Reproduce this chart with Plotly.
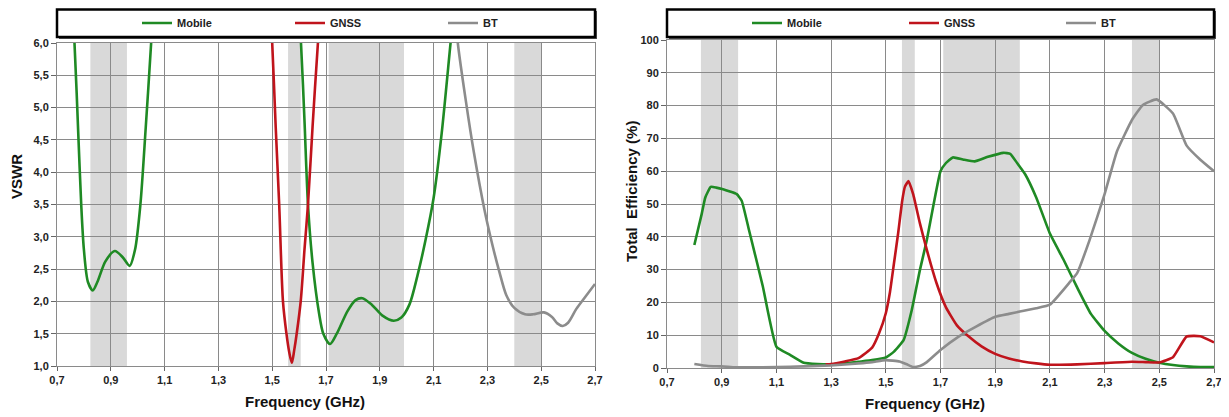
import plotly.graph_objects as go

# ---------------- data ----------------
series_names = ["Mobile", "GNSS", "BT"]
colors = {"Mobile": "#1f8a24", "GNSS": "#c0141c", "BT": "#8c8c8c"}

# VSWR (left chart)
vswr_mobile_f1 = [0.755, 0.765, 0.78, 0.79, 0.80, 0.815, 0.833, 0.85, 0.88, 0.915, 0.945, 0.97, 0.99, 1.01, 1.03, 1.05, 1.056]
vswr_mobile_v1 = [6.6, 6.0, 4.5, 3.5, 2.8, 2.3, 2.17, 2.3, 2.62, 2.78, 2.68, 2.55, 2.8, 3.5, 4.7, 6.0, 6.5]
vswr_mobile_f2 = [1.598, 1.607, 1.62, 1.633, 1.65, 1.674, 1.69, 1.715, 1.74, 1.78, 1.81, 1.835, 1.87, 1.91, 1.952, 1.98, 2.01, 2.04, 2.07, 2.10, 2.13, 2.163, 2.175]
vswr_mobile_v2 = [6.5, 6.0, 4.8, 3.5, 2.6, 1.82, 1.5, 1.34, 1.5, 1.85, 2.02, 2.05, 1.95, 1.78, 1.70, 1.75, 1.95, 2.4, 2.95, 3.6, 4.6, 6.0, 6.5]
vswr_gnss_f = [1.495, 1.50, 1.513, 1.526, 1.54, 1.553, 1.563, 1.573, 1.582, 1.591, 1.606, 1.62, 1.633, 1.65, 1.67, 1.676]
vswr_gnss_v = [6.3, 6.0, 4.7, 3.5, 2.0, 1.5, 1.22, 1.05, 1.25, 1.5, 2.0, 2.8, 3.5, 4.7, 6.0, 6.3]
vswr_bt_f = [2.18, 2.19, 2.22, 2.25, 2.29, 2.32, 2.345, 2.37, 2.40, 2.44, 2.47, 2.51, 2.54, 2.56, 2.58, 2.60, 2.63, 2.66, 2.70]
vswr_bt_v = [6.5, 6.0, 5.1, 4.3, 3.4, 2.85, 2.45, 2.1, 1.9, 1.8, 1.8, 1.83, 1.76, 1.66, 1.62, 1.67, 1.88, 2.05, 2.27]

# Total efficiency (right chart)
eff_mobile_f = [0.80, 0.827, 0.84, 0.86, 0.88, 0.905, 0.93, 0.955, 0.973, 1.0, 1.05, 1.10, 1.15, 1.20, 1.25, 1.30, 1.35, 1.40, 1.45, 1.50, 1.53, 1.565, 1.595, 1.625, 1.65, 1.675, 1.70, 1.72, 1.745, 1.785, 1.825, 1.87, 1.93, 1.955, 1.98, 2.01, 2.05, 2.10, 2.15, 2.20, 2.25, 2.30, 2.35, 2.40, 2.45, 2.50, 2.55, 2.60, 2.65, 2.70]
eff_mobile_v = [37.5, 47, 52, 55.2, 55.0, 54.5, 53.8, 53.0, 51, 42, 25, 6.5, 4.0, 1.6, 1.2, 1.1, 1.4, 1.9, 2.4, 3.2, 5, 8.5, 17.7, 30, 39, 50, 60, 62.5, 64.2, 63.5, 63, 64.3, 65.6, 65.3, 62.5, 59, 52, 41, 33, 24.5, 16.5, 11.3, 7.5, 4.6, 2.8, 1.6, 0.9, 0.5, 0.3, 0.3]
eff_gnss_f = [1.28, 1.30, 1.35, 1.40, 1.45, 1.475, 1.50, 1.515, 1.53, 1.545, 1.56, 1.57, 1.583, 1.60, 1.625, 1.65, 1.685, 1.72, 1.76, 1.80, 1.85, 1.90, 1.95, 2.00, 2.05, 2.10, 2.20, 2.30, 2.40, 2.45, 2.50, 2.55, 2.60, 2.65, 2.70]
eff_gnss_v = [1.1, 1.2, 2.0, 3.0, 6.2, 10.5, 16.7, 23, 32, 41, 51, 55.3, 57, 53, 44, 36, 26, 18.5, 13, 9.8, 6.6, 4.3, 2.9, 2.0, 1.4, 1.0, 1.1, 1.5, 1.9, 1.8, 1.7, 3.3, 9.6, 9.7, 7.8]
eff_bt_f = [0.80, 0.85, 0.90, 0.95, 1.00, 1.10, 1.20, 1.30, 1.40, 1.45, 1.50, 1.55, 1.575, 1.60, 1.625, 1.65, 1.70, 1.765, 1.83, 1.90, 1.95, 1.99, 2.05, 2.10, 2.17, 2.20, 2.245, 2.30, 2.345, 2.40, 2.44, 2.49, 2.55, 2.60, 2.65, 2.70]
eff_bt_v = [1.2, 0.6, 0.5, 0.2, 0.2, 0.3, 0.5, 0.8, 1.4, 1.8, 2.4, 2.0, 1.2, 0.3, 0.6, 1.8, 5.5, 9.5, 12.6, 15.6, 16.5, 17.2, 18.2, 19.3, 25.9, 29, 39, 53, 66, 75.6, 80.2, 81.9, 77.6, 67.8, 63.5, 60]

# shaded frequency bands (GHz)
band_starts = [0.824, 1.559, 1.71, 2.40]
band_ends = [0.960, 1.606, 1.99, 2.50]

x_ticks = [0.7, 0.9, 1.1, 1.3, 1.5, 1.7, 1.9, 2.1, 2.3, 2.5, 2.7]

# ---------------- figure ----------------
W, H = 1229, 417
OFF = 8  # page body margin offset
FONT = "Liberation Sans, Arial, sans-serif"

def px(x):
    return (x - OFF) / W

def py(y):
    return 1 - (y - OFF) / H

fig = go.Figure()

left = [
    ("Mobile", vswr_mobile_f1, vswr_mobile_v1, True),
    ("Mobile", vswr_mobile_f2, vswr_mobile_v2, False),
    ("GNSS", vswr_gnss_f, vswr_gnss_v, True),
    ("BT", vswr_bt_f, vswr_bt_v, True),
]
for name, f, v, show in left:
    fig.add_trace(go.Scatter(
        x=f, y=v, mode="lines", name=name, legendgroup="L" + name, showlegend=show,
        line=dict(color=colors[name], width=2.6, shape="spline", smoothing=0.8),
        xaxis="x", yaxis="y", legend="legend",
    ))

right = [
    ("Mobile", eff_mobile_f, eff_mobile_v),
    ("GNSS", eff_gnss_f, eff_gnss_v),
    ("BT", eff_bt_f, eff_bt_v),
]
for name, f, v in right:
    fig.add_trace(go.Scatter(
        x=f, y=v, mode="lines", name=name, legendgroup="R" + name,
        line=dict(color=colors[name], width=2.6, shape="spline", smoothing=0.4),
        xaxis="x2", yaxis="y2", legend="legend2",
    ))

shapes = []
for xr, yr in (("x", "y domain"), ("x2", "y2 domain")):
    for s, e in zip(band_starts, band_ends):
        shapes.append(dict(type="rect", xref=xr, yref=yr, x0=s, x1=e, y0=0, y1=1,
                           fillcolor="#d9d9d9", line=dict(width=0), layer="below"))

# legend boxes
for x0, x1 in ((57, 595), (667, 1214)):
    shapes.append(dict(type="rect", xref="paper", yref="paper",
                       x0=px(x0 + 2), x1=px(x1 + 2), y0=py(39), y1=py(11),
                       fillcolor="#555555", line=dict(width=0), layer="below"))
    shapes.append(dict(type="rect", xref="paper", yref="paper",
                       x0=px(x0), x1=px(x1), y0=py(37), y1=py(9.5),
                       fillcolor="white", line=dict(color="black", width=2.5), layer="below"))

tickfont = dict(family=FONT, size=11, color="#222222", weight="bold")
grid = "#8a8a8a"
common_x = dict(range=[0.7, 2.7], tickvals=x_ticks, tickformat=".1f", showgrid=True,
                gridcolor=grid, gridwidth=1, showline=True, linecolor="#8a8a8a", linewidth=1,
                mirror=True, ticks="outside", ticklen=4, tickcolor="#666666",
                tickfont=tickfont, zeroline=False, fixedrange=True, automargin=False)
common_y = dict(showgrid=True, gridcolor=grid, gridwidth=1, showline=True,
                linecolor="#8a8a8a", linewidth=1, mirror=True, ticks="outside",
                ticklen=5, tickcolor="#666666", tickfont=tickfont, zeroline=False,
                fixedrange=True, automargin=False)

legend_font = dict(family=FONT, size=11, color="#222222", weight="bold")

fig.update_layout(
    template="none",
    width=W, height=H,
    margin=dict(l=0, r=0, t=0, b=0, pad=0, autoexpand=False),
    paper_bgcolor="white", plot_bgcolor="white",
    separators=", ",
    font=dict(family=FONT, size=11, color="#222222"),
    xaxis=dict(domain=[px(57), px(595)], anchor="y", **common_x),
    yaxis=dict(domain=[py(366), py(43)], anchor="x", range=[1, 6], dtick=0.5,
               tickformat=".1f", **common_y),
    xaxis2=dict(domain=[px(667), px(1214)], anchor="y2", **common_x),
    yaxis2=dict(domain=[py(368), py(40)], anchor="x2", range=[0, 100], dtick=10,
                tickformat="d", **common_y),
    legend=dict(orientation="h", x=px(137), xanchor="left", y=py(23), yanchor="middle",
                bgcolor="rgba(0,0,0,0)", borderwidth=0, entrywidth=108,
                entrywidthmode="pixels", itemwidth=30, font=legend_font,
                traceorder="normal", itemclick=False, itemdoubleclick=False),
    legend2=dict(orientation="h", x=px(747), xanchor="left", y=py(23), yanchor="middle",
                 bgcolor="rgba(0,0,0,0)", borderwidth=0, entrywidth=112,
                 entrywidthmode="pixels", itemwidth=30, font=legend_font,
                 traceorder="normal", itemclick=False, itemdoubleclick=False),
    shapes=shapes,
    showlegend=True,
)

title_font = dict(family=FONT, size=15, color="#111111", weight="bold")
annotations = [
    dict(text="Frequency (GHz)", x=px(305), y=py(401)),
    dict(text="Frequency (GHz)", x=px(925), y=py(403)),
    dict(text="VSWR", x=px(17), y=py(177), textangle=-90),
    dict(text="Total\u00a0 Efficiency (%)", x=px(632), y=py(192), textangle=-90),
]
for a in annotations:
    fig.add_annotation(xref="paper", yref="paper", showarrow=False, font=title_font,
                       xanchor="center", yanchor="middle", **a)

fig.write_html("out.html")
